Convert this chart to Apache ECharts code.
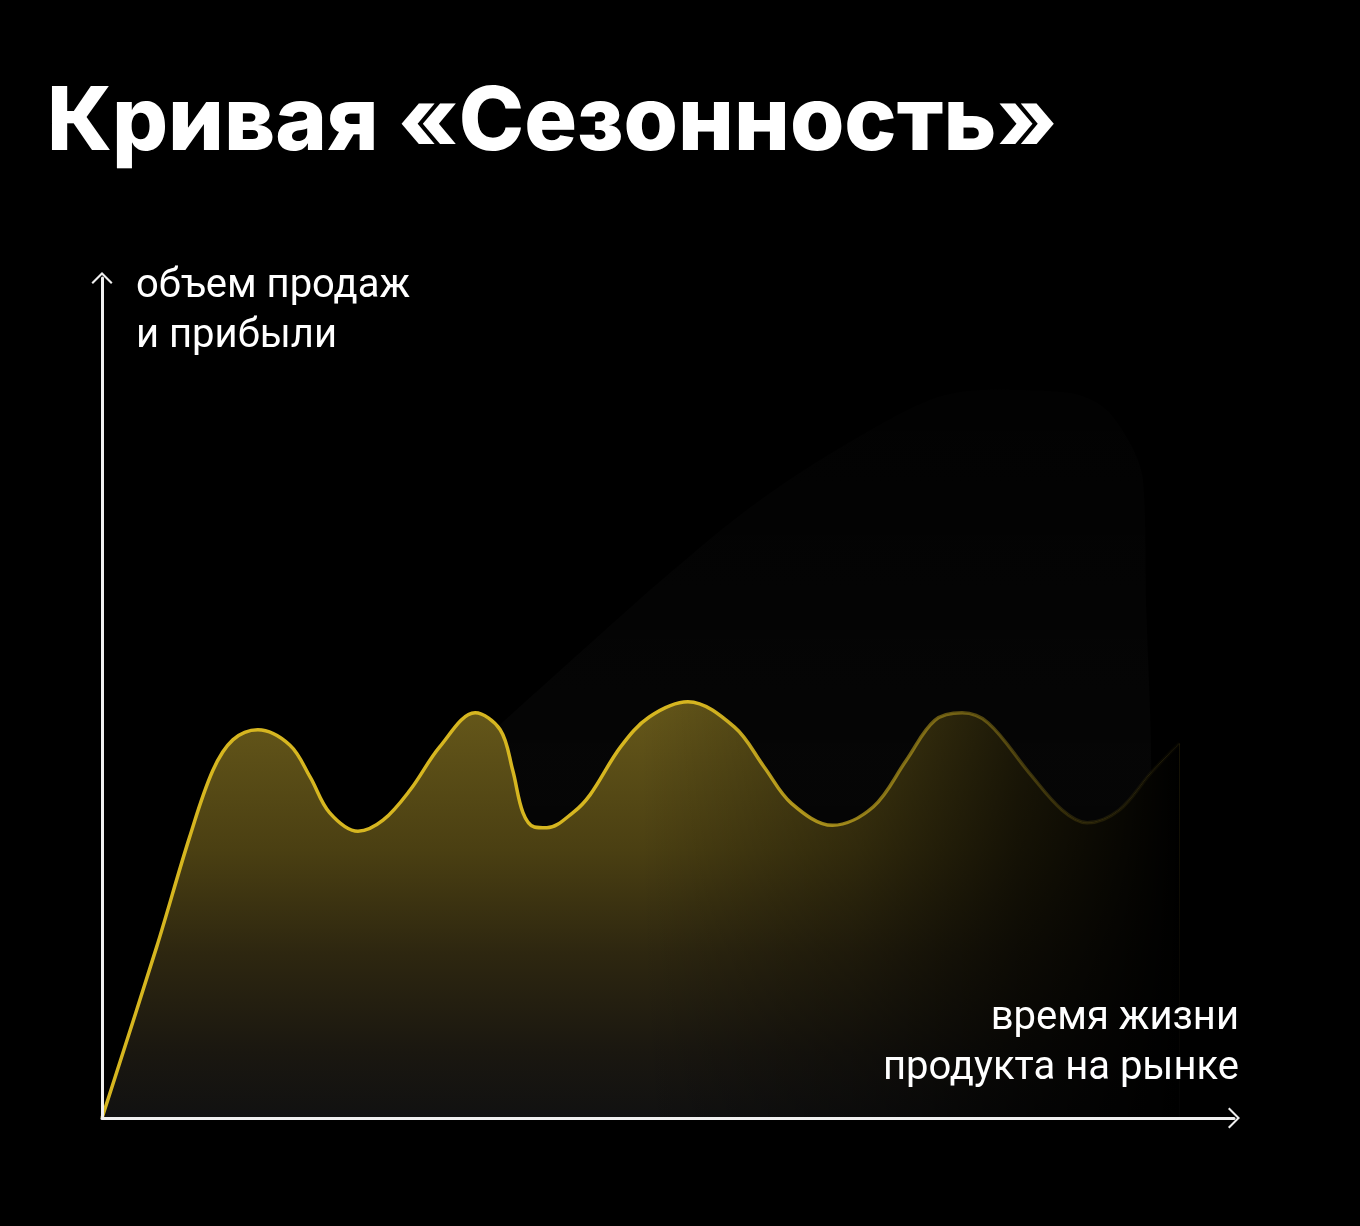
<!DOCTYPE html>
<html><head><meta charset="utf-8">
<script src="https://cdn.jsdelivr.net/npm/echarts@6/dist/echarts.min.js"></script>
<style>html,body{margin:0;padding:0;background:#000;}#c{width:1360px;height:1226px;}</style>
</head><body><div id="c"></div>
<script>
const titleText = 'Кривая «Сезонность»';
const yAxisLabel = 'объем продаж\nи прибыли';
const xAxisLines = ['время жизни', 'продукта на рынке'];

// time on market (x) and sales/profit volume (y), arbitrary units
const timeX  = [0, 4.8, 7.7, 9.75, 11.5, 13.7, 16.5, 18.3, 20.0, 22.5, 24.7, 27.1, 29.7, 32.8, 35.0, 36.1, 37.0, 38.0, 39.1, 41.4, 42.9, 45.6, 48.1, 51.5, 55.6, 58.2, 60.6, 64.2, 67.8, 70.7, 73.2, 75.6, 77.9, 81.5, 84.4, 86.6, 89.4, 92.2, 94.7];
const salesY = [0, 20.2, 33.2, 41.1, 44.7, 45.9, 44.1, 40.3, 36.1, 33.9, 35.2, 38.8, 43.9, 47.9, 45.9, 41.1, 36.1, 34.4, 34.3, 36.1, 38.2, 43.9, 47.4, 49.2, 46.2, 41.5, 37.2, 34.6, 36.8, 42.3, 47.0, 47.9, 46.7, 40.8, 36.4, 34.9, 36.4, 40.8, 44.3];

// faint background haze outline
const hazeX = [35.0, 42.0, 49.2, 56.3, 63.5, 72.8, 77.9, 85.1, 88.6, 91.5, 91.8, 92.2, 92.4];
const hazeY = [46.5, 55.0, 63.6, 71.5, 78.1, 84.9, 86.1, 85.7, 83.3, 75.4, 59.7, 43.9, 0];

const curve = timeX.map((x, i) => [x, salesY[i]]);
const haze = hazeX.map((x, i) => [x, hazeY[i]]);

const chart = echarts.init(document.getElementById('c'), null, {renderer: 'canvas'});
const chevron = 'path://M1.4,11.4 L0,10 L10,0 L20,10 L18.6,11.4 L10,2.8 Z';
const axisLine = {
  show: true,
  symbol: ['none', chevron],
  symbolSize: [22, 12],
  lineStyle: {color: '#f0f0f0', width: 3}
};

chart.setOption({
  backgroundColor: '#000',
  animation: false,
  title: [
    {text: titleText, left: 42, top: 69,
     textStyle: {color: '#fff', fontSize: 88, fontWeight: 800, fontFamily: 'Inter', lineHeight: 100}},
    {text: yAxisLabel, left: 131, top: 257,
     textStyle: {color: '#fff', fontSize: 40, fontWeight: 'normal', fontFamily: 'Roboto', lineHeight: 50}}
  ],
  graphic: xAxisLines.map((t, i) => ({
    type: 'text', right: 121, top: 999 + i * 50, z: 20,
    style: {text: t, fill: '#fff', font: '40px Roboto'}
  })),
  grid: {left: 102, right: 126, top: 278, bottom: 108, containLabel: false},
  xAxis: {type: 'value', min: 0, max: 99.5, axisLine: axisLine, z: 10,
          axisTick: {show: false}, axisLabel: {show: false}, splitLine: {show: false}},
  yAxis: {type: 'value', min: 0, max: 99.3, axisLine: axisLine, z: 10,
          axisTick: {show: false}, axisLabel: {show: false}, splitLine: {show: false}},
  series: [
    {name: 'haze', type: 'line', data: haze, smooth: 0.3, showSymbol: false, z: 1,
     lineStyle: {width: 0, opacity: 0},
     areaStyle: {color: new echarts.graphic.LinearGradient(0, 0, 0, 1, [
       {offset: 0, color: 'rgba(255,255,255,0.01)'},
       {offset: 0.5, color: 'rgba(255,255,255,0.032)'},
       {offset: 1, color: 'rgba(255,255,255,0.028)'}]),
       shadowBlur: 60, shadowColor: 'rgba(255,255,255,0.03)'}},
    {name: 'fill', type: 'line', data: curve, smooth: 0.35, showSymbol: false, z: 2,
     lineStyle: {width: 0, opacity: 0},
     areaStyle: {opacity: 1, color: new echarts.graphic.LinearGradient(0, 0, 0, 1, [
       {offset: 0, color: '#66581a'},
       {offset: 0.36, color: '#4a3f12'},
       {offset: 0.6, color: '#2e2710'},
       {offset: 0.84, color: '#1a1710'},
       {offset: 1, color: '#111111'}])}},
    {name: 'fade', type: 'line', data: curve, smooth: 0.35, showSymbol: false, z: 3,
     lineStyle: {width: 0, opacity: 0},
     areaStyle: {opacity: 1, color: new echarts.graphic.LinearGradient(0, 0, 1, 0, [
       {offset: 0, color: 'rgba(0,0,0,0)'},
       {offset: 0.5, color: 'rgba(0,0,0,0)'},
       {offset: 0.7, color: 'rgba(0,0,0,0.35)'},
       {offset: 0.85, color: 'rgba(0,0,0,0.72)'},
       {offset: 1, color: 'rgba(0,0,0,1)'}])}},
    {name: 'Сезонность', type: 'line', data: curve, smooth: 0.35, showSymbol: false, z: 4,
     lineStyle: {width: 3.5, color: new echarts.graphic.LinearGradient(0, 0, 1, 0, [
       {offset: 0, color: 'rgba(214,182,32,1)'},
       {offset: 0.55, color: 'rgba(214,182,32,1)'},
       {offset: 0.7, color: 'rgba(214,182,32,0.65)'},
       {offset: 0.8, color: 'rgba(214,182,32,0.4)'},
       {offset: 0.9, color: 'rgba(214,182,32,0.15)'},
       {offset: 1, color: 'rgba(214,182,32,0.02)'}])}}
  ]
});
</script>
</body></html>
